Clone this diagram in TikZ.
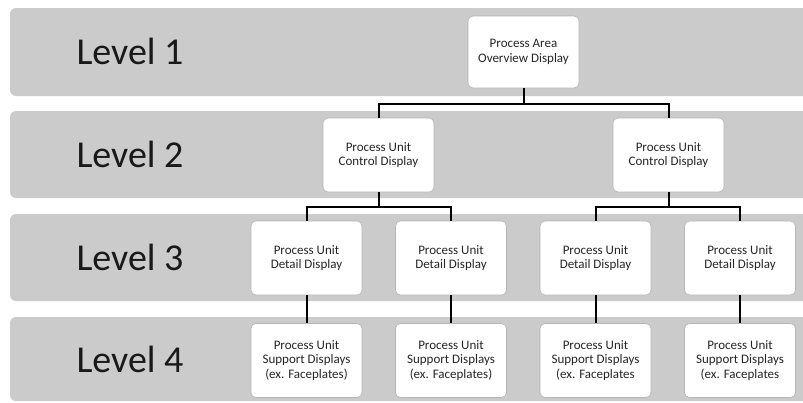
\documentclass[tikz,border=0pt]{standalone}
\usepackage{fontspec}
\setmainfont{Carlito}
\begin{document}
\begin{tikzpicture}[x=1pt,y=-1pt,
  band/.style={fill=bandgray, rounded corners=6pt},
  levellabel/.style={font=\fontsize{38}{40}\selectfont, text=black!90, inner sep=0pt},
  box/.style={draw=boxedge, line width=0.6pt, fill=white, rounded corners=5pt,
    minimum width=111pt, minimum height=74pt, inner sep=0pt, align=center,
    font=\fontsize{13}{14.5}\selectfont, text=black!85},
  conn/.style={draw=black, line width=2pt}]
\definecolor{bandgray}{HTML}{CBCBCB}
\definecolor{boxedge}{HTML}{B4B4B4}
\useasboundingbox (0,0) rectangle (803,402);
\clip (0,0) rectangle (803,402);
% bands
\fill[band] (10,8) rectangle (830,96);
\fill[band] (10,111) rectangle (830,198);
\fill[band] (10,214) rectangle (830,301);
\fill[band] (10,317) rectangle (830,401);
% level labels
\node[levellabel] (lv1) at (130,51) {Level 1};
\node[levellabel] (lv2) at (130,154) {Level 2};
\node[levellabel] (lv3) at (130,257) {Level 3};
\node[levellabel] (lv4) at (130,359) {Level 4};
% boxes
\node[box, minimum height=72pt] (top) at (523.5,52) {Process Area\\Overview Display};
\node[box] (l2a) at (378.5,155) {Process Unit\\Control Display};
\node[box] (l2b) at (668.5,155) {Process Unit\\Control Display};
\node[box] (l3a) at (306.5,258) {Process Unit\\Detail Display};
\node[box] (l3b) at (451,258) {Process Unit\\Detail Display};
\node[box] (l3c) at (595.5,258) {Process Unit\\Detail Display};
\node[box] (l3d) at (740,258) {Process Unit\\Detail Display};
\node[box] (l4a) at (306.5,360.5) {Process Unit\\Support Displays\\(ex. Faceplates)};
\node[box] (l4b) at (451,360.5) {Process Unit\\Support Displays\\(ex. Faceplates)};
\node[box] (l4c) at (595.5,360.5) {Process Unit\\Support Displays\\(ex. Faceplates};
\node[box] (l4d) at (740,360.5) {Process Unit\\Support Displays\\(ex. Faceplates};
% junction coordinates
\coordinate (h1) at (523.5,103.5);
\coordinate (h2) at (378.5,207);
\coordinate (h3) at (668.5,207);
% connectors
\draw[conn] (top.south) -- (top.south |- h1);
\draw[conn] (l2a.north) -- (l2a.north |- h1) -- (l2b.north |- h1) -- (l2b.north);
\draw[conn] (l2a.south) -- (l2a.south |- h2);
\draw[conn] (l3a.north) -- (l3a.north |- h2) -- (l3b.north |- h2) -- (l3b.north);
\draw[conn] (l2b.south) -- (l2b.south |- h3);
\draw[conn] (l3c.north) -- (l3c.north |- h3) -- (l3d.north |- h3) -- (l3d.north);
\draw[conn] (l3a.south) -- (l4a.north);
\draw[conn] (l3b.south) -- (l4b.north);
\draw[conn] (l3c.south) -- (l4c.north);
\draw[conn] (l3d.south) -- (l4d.north);
\end{tikzpicture}
\end{document}
